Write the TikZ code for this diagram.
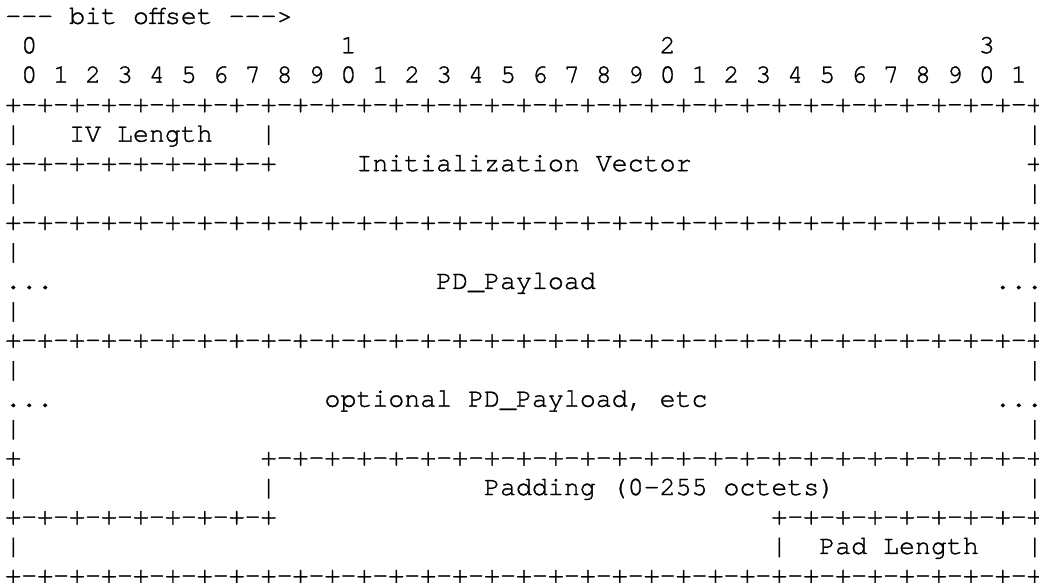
\documentclass[tikz,border=0pt]{standalone}
\usepackage{fontspec}
\newfontfamily\monof{TeX Gyre Cursor}[FakeBold=1.2]
\newcommand\segA{+-+-+-+-+-+-+-+-}
\newcommand\txt[4]{\node[asc] (#1) at ({5.3+15.96*#2},{-(53.3+29.45*(#3-2))}) {#4};}
\begin{document}
\begin{tikzpicture}[x=1pt,y=1pt,
  asc/.style={anchor=base west,inner sep=0pt,outer sep=0pt,text=black,
    font=\monof\fontsize{26.6}{29.45}\selectfont}]
\useasboundingbox[fill=white] (0,0) rectangle (1039,-583);
% header
\txt{hdr}{0}{1}{-\kern0pt-\kern0pt- bit offset -\kern0pt-\kern0pt->}
\txt{t0}{1}{2}{0}
\txt{t1}{21}{2}{1}
\txt{t2}{41}{2}{2}
\txt{t3}{61}{2}{3}
\txt{units}{1}{3}{0 1 2 3 4 5 6 7 8 9 0 1 2 3 4 5 6 7 8 9 0 1 2 3 4 5 6 7 8 9 0 1}
% IV block
\txt{b4}{0}{4}{\segA\segA\segA\segA+}
\txt{l5}{0}{5}{|}
\txt{ivl}{4}{5}{IV Length}
\txt{m5}{16}{5}{|}
\txt{r5}{64}{5}{|}
\txt{b6}{0}{6}{\segA+}
\txt{iv}{22}{6}{Initialization Vector}
\txt{r6}{64}{6}{+}
\txt{l7}{0}{7}{|}
\txt{r7}{64}{7}{|}
% payload
\txt{b8}{0}{8}{\segA\segA\segA\segA+}
\txt{l9}{0}{9}{|}
\txt{r9}{64}{9}{|}
\txt{d10l}{0}{10}{...}
\txt{pd}{27}{10}{PD\_Payload}
\txt{d10r}{62}{10}{...}
\txt{l11}{0}{11}{|}
\txt{r11}{64}{11}{|}
% optional payload
\txt{b12}{0}{12}{\segA\segA\segA\segA+}
\txt{l13}{0}{13}{|}
\txt{r13}{64}{13}{|}
\txt{d14l}{0}{14}{...}
\txt{opd}{20}{14}{optional PD\_Payload, etc}
\txt{d14r}{62}{14}{...}
\txt{l15}{0}{15}{|}
\txt{r15}{64}{15}{|}
% padding
\txt{p16}{0}{16}{+}
\txt{b16}{16}{16}{\segA\segA\segA+}
\txt{l17}{0}{17}{|}
\txt{m17}{16}{17}{|}
\txt{pad}{30}{17}{Padding (0-255 octets)}
\txt{r17}{64}{17}{|}
\txt{b18a}{0}{18}{\segA+}
\txt{b18b}{48}{18}{\segA+}
\txt{l19}{0}{19}{|}
\txt{m19}{48}{19}{|}
\txt{padl}{51}{19}{Pad Length}
\txt{r19}{64}{19}{|}
\txt{b20}{0}{20}{\segA\segA\segA\segA+}
\end{tikzpicture}
\end{document}
